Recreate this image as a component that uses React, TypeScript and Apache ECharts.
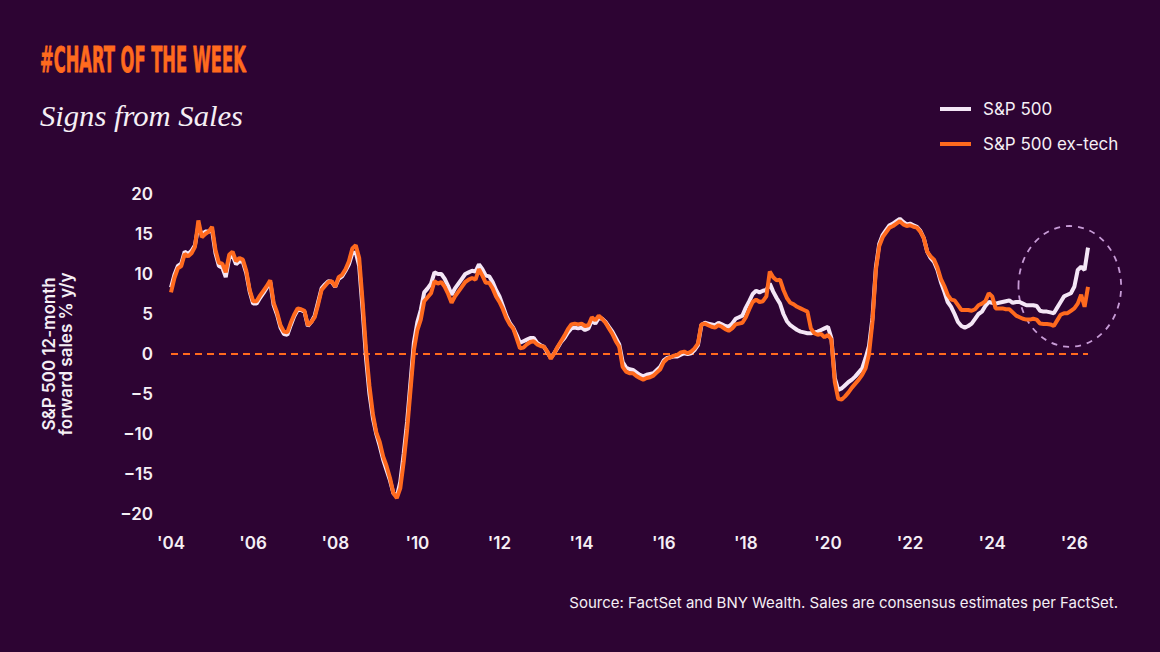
import React, { useEffect, useRef } from 'react';
import * as echarts from 'echarts';

// Monthly observations, January 2004 onward
const START_YEAR = 2004;

const spx500 = [
  8.3, 9.9, 11.0, 11.3, 12.8, 12.5, 12.9, 13.6, 16.0, 14.9, 15.3, 15.3,
  15.5, 12.6, 11.0, 10.8, 9.6, 12.0, 12.3, 11.2, 11.6, 11.5, 10.1, 7.8,
  6.3, 6.3, 7.0, 7.6, 8.3, 9.0, 6.1, 4.9, 3.3, 2.5, 2.4, 3.6,
  4.7, 5.5, 5.5, 5.3, 3.5, 4.0, 4.8, 6.5, 8.2, 8.7, 9.1, 9.0,
  8.4, 9.4, 9.7, 10.4, 11.2, 12.6, 12.7, 11.0, 5.5, -0.5, -5.0, -8.0,
  -10.0, -11.5, -13.2, -14.5, -15.8, -17.4, -17.8, -16.0, -12.5, -8.5, -3.5, 1.5,
  4.0, 5.5, 7.7, 8.2, 8.8, 10.2, 10.0, 10.0, 9.4, 8.5, 7.4, 8.2,
  8.8, 9.4, 10.0, 10.2, 10.4, 10.3, 11.2, 10.6, 9.8, 9.7, 9.0, 8.0,
  7.2, 6.0, 4.8, 3.9, 3.3, 2.4, 1.4, 1.6, 1.8, 2.0, 2.0, 1.4,
  1.1, 0.9, 0.2, -0.5, 0.1, 0.8, 1.5, 2.0, 2.7, 3.2, 3.3, 3.2,
  3.3, 3.0, 3.2, 4.2, 3.8, 4.5, 4.4, 4.0, 3.4, 2.8, 2.0, 1.2,
  -1.0, -1.7, -1.9, -2.0, -2.3, -2.6, -2.8, -2.6, -2.5, -2.4, -2.0, -1.6,
  -0.8, -0.5, -0.4, -0.3, -0.3, -0.1, 0.1, 0.0, 0.1, 0.5, 1.1, 3.6,
  3.9, 3.8, 3.7, 3.6, 3.9, 3.7, 3.5, 3.4, 3.8, 4.4, 4.6, 4.8,
  5.8, 6.6, 7.5, 7.9, 7.7, 7.9, 8.0, 8.8, 7.8, 7.0, 6.3, 5.0,
  4.1, 3.6, 3.3, 3.0, 2.8, 2.7, 2.6, 2.6, 2.7, 2.8, 3.0, 3.2,
  3.4, 2.0, -3.0, -4.5, -4.3, -3.9, -3.5, -3.2, -2.8, -2.3, -1.8, -0.5,
  1.0, 4.5, 10.8, 13.8, 14.9, 15.5, 16.1, 16.3, 16.6, 16.9, 16.5, 16.2,
  16.3, 16.1, 15.9, 15.4, 14.5, 12.8, 12.0, 11.5, 10.5, 9.0, 7.8, 6.5,
  5.9, 5.0, 4.0, 3.5, 3.3, 3.5, 3.8, 4.4, 5.0, 5.3, 6.0, 6.5,
  6.4, 6.3, 6.4, 6.5, 6.6, 6.7, 6.4, 6.5, 6.5, 6.3, 6.1, 6.1,
  6.1, 6.0, 5.4, 5.3, 5.3, 5.2, 5.1, 5.8, 6.5, 7.2, 7.4, 7.6,
  8.4, 10.5, 10.9, 10.5, 13.3,
];

const spx500ExTech = [
  7.7, 9.5, 10.7, 11.0, 12.5, 12.2, 12.6, 13.4, 16.7, 14.6, 15.0, 15.3,
  15.9, 13.0, 11.4, 11.3, 10.2, 12.4, 12.8, 11.6, 12.0, 11.8, 10.4, 8.0,
  6.6, 6.6, 7.3, 7.9, 8.5, 9.2, 6.4, 5.2, 3.6, 2.8, 2.7, 3.9,
  4.9, 5.7, 5.6, 5.4, 3.6, 4.0, 4.6, 6.2, 8.0, 8.5, 9.0, 9.1,
  8.4, 9.6, 9.9, 10.6, 11.6, 13.2, 13.6, 12.0, 6.5, 0.5, -4.0, -7.5,
  -9.8, -11.0, -12.8, -14.0, -15.5, -17.4, -18.0, -16.8, -13.5, -9.5, -4.5, 0.5,
  3.0, 4.3, 6.6, 7.1, 7.6, 9.1, 8.8, 9.0, 8.4, 7.5, 6.4, 7.2,
  7.8, 8.4, 9.0, 9.3, 9.5, 9.3, 10.6, 9.8, 8.9, 8.9, 8.2, 7.2,
  6.5, 5.6, 4.5, 3.7, 3.2, 2.0, 0.7, 0.8, 1.2, 1.5, 1.6, 1.2,
  1.0, 0.9, 0.3, -0.6, 0.1, 0.9, 1.6, 2.3, 3.1, 3.7, 3.8, 3.7,
  3.8, 3.5, 3.6, 4.6, 4.2, 4.8, 4.4, 3.9, 3.2, 2.5, 1.6, 0.9,
  -1.6, -2.2, -2.4, -2.4, -2.75, -3.0, -3.2, -3.0, -2.9, -2.7, -2.3, -1.9,
  -1.0, -0.6, -0.4, -0.2, -0.1, 0.2, 0.3, 0.1, 0.3, 0.7, 1.3, 3.7,
  3.8, 3.6, 3.4, 3.3, 3.6, 3.4, 3.1, 2.9, 3.2, 3.7, 3.8, 3.9,
  4.6, 5.6, 6.5, 6.8, 6.5, 6.6, 7.2, 10.3, 9.6, 9.2, 9.3, 8.0,
  7.0, 6.4, 6.2, 5.9, 5.7, 5.5, 5.3, 3.2, 2.6, 2.4, 2.5, 2.1,
  2.4, 1.8, -3.5, -5.6, -5.7, -5.3, -4.8, -4.2, -3.7, -3.2, -2.6, -1.8,
  0.0, 4.0, 10.5, 13.5, 14.6, 15.2, 15.8, 16.0, 16.3, 16.6, 16.2, 16.0,
  16.1, 15.9, 15.8, 15.3, 14.5, 12.8, 12.2, 11.8, 10.8, 9.4, 8.5, 7.4,
  6.8, 6.7, 6.1, 5.5, 5.5, 5.5, 5.4, 5.6, 6.1, 6.3, 6.6, 7.6,
  7.2, 5.7, 5.7, 5.7, 5.6, 5.6, 5.2, 4.8, 4.6, 4.4, 4.3, 4.3,
  4.4, 4.3, 3.8, 3.75, 3.75, 3.7, 3.5, 4.2, 4.9, 5.1, 5.1, 5.4,
  5.7, 6.3, 7.4, 5.9, 8.4,
];

const xTickYears = [2004, 2006, 2008, 2010, 2012, 2014, 2016, 2018, 2020, 2022, 2024, 2026];
const xTickLabels = ["'04", "'06", "'08", "'10", "'12", "'14", "'16", "'18", "'20", "'22", "'24", "'26"];
const yTicks = [-20, -15, -10, -5, 0, 5, 10, 15, 20];

// highlighted region (ellipse annotation) in data units: center [year, value], radii [years, value]
const highlightCenter = [2025.89, 8.45];
const highlightRadius = [1.25, 7.55];

const BG = '#2d0433';
const ORANGE = '#ff6a1e';
const LIGHT = '#f4e6f6';
const TEXT = '#f5eff5';
const FONT = 'Inter, "Noto Sans", sans-serif';

function measure(font: string, text: string): number {
  const ctx = document.createElement('canvas').getContext('2d');
  if (!ctx) return 0;
  ctx.font = font;
  return ctx.measureText(text).width;
}

export default function App() {
  const ref = useRef<HTMLDivElement>(null);

  useEffect(() => {
    if (!ref.current) return;
    const chart = echarts.init(ref.current, null, { renderer: 'svg' });
    const toPairs = (arr: number[]) => arr.map((v, i) => [START_YEAR + i / 12, v]);
    const lastX = START_YEAR + (spx500.length - 1) / 12;

    chart.setOption({
      animation: false,
      backgroundColor: BG,
      grid: { left: 171, right: 72, top: 194, bottom: 138 },
      legend: {
        orient: 'vertical',
        left: 935,
        top: 94,
        itemWidth: 31,
        itemHeight: 4,
        itemGap: 15,
        icon: 'rect',
        textStyle: { color: TEXT, fontFamily: FONT, fontSize: 17, lineHeight: 20, padding: [0, 0, 0, 7] },
        data: ['S&P 500', 'S&P 500 ex-tech'],
      },
      xAxis: {
        type: 'value',
        min: START_YEAR,
        max: lastX,
        interval: 2,
        axisLine: { show: false },
        axisTick: { show: false },
        splitLine: { show: false },
        axisLabel: {
          color: TEXT,
          fontFamily: FONT,
          fontSize: 17,
          fontWeight: 600,
          margin: 20,
          showMaxLabel: false,
          formatter: (v: number) => {
            const r = Math.round(v);
            const i = xTickYears.indexOf(r);
            return Math.abs(v - r) < 1e-6 && i >= 0 ? xTickLabels[i] : '';
          },
        },
      },
      yAxis: {
        type: 'value',
        min: yTicks[0],
        max: yTicks[yTicks.length - 1],
        interval: 5,
        axisLine: { show: false },
        axisTick: { show: false },
        splitLine: { show: false },
        name: 'S&P 500 12-month\nforward sales % y/y',
        nameLocation: 'middle',
        nameRotate: 90,
        nameGap: 97,
        nameTextStyle: { color: TEXT, fontFamily: FONT, fontSize: 17, fontWeight: 600, lineHeight: 17 },
        axisLabel: {
          color: TEXT,
          fontFamily: FONT,
          fontSize: 17,
          fontWeight: 600,
          margin: 18,
          formatter: (v: number) => String(v).replace('-', '\u2212'),
        },
      },
      series: [
        {
          name: 'S&P 500',
          type: 'line',
          data: toPairs(spx500),
          color: LIGHT,
          showSymbol: false,
          symbol: 'none',
          lineStyle: { width: 4, color: LIGHT },
          z: 2,
        },
        {
          name: 'S&P 500 ex-tech',
          type: 'line',
          data: toPairs(spx500ExTech),
          color: ORANGE,
          showSymbol: false,
          symbol: 'none',
          lineStyle: { width: 4, color: ORANGE },
          z: 3,
          markLine: {
            silent: true,
            symbol: 'none',
            label: { show: false },
            lineStyle: { color: ORANGE, type: [7, 5], width: 2 },
            data: [{ yAxis: 0 }],
            z: 1,
          },
        },
      ],
    });

    const c = chart.convertToPixel({ gridIndex: 0 }, highlightCenter) as number[];
    const e = chart.convertToPixel({ gridIndex: 0 }, [
      highlightCenter[0] + highlightRadius[0],
      highlightCenter[1] + highlightRadius[1],
    ]) as number[];

    const titleFont = 'bold 36px "Liberation Sans Narrow", "DejaVu Sans Condensed", sans-serif';
    const titleText = '#CHART OF THE WEEK';
    const tw = measure(titleFont, titleText) || 206;
    const subFont = 'italic 29px "Liberation Serif", "DejaVu Serif", serif';
    const subText = 'Signs from Sales';
    const sw = measure(subFont, subText) || 203;

    chart.setOption({
      graphic: [
        {
          type: 'text',
          x: 40,
          y: 60.5,
          scaleX: 206 / tw,
          style: {
            text: titleText,
            font: titleFont,
            fill: ORANGE,
            stroke: ORANGE,
            lineWidth: 0.8,
            align: 'left',
            verticalAlign: 'middle',
          },
        },
        {
          type: 'text',
          x: 40,
          y: 115.5,
          scaleX: 203 / sw,
          style: { text: subText, font: subFont, fill: TEXT, align: 'left', verticalAlign: 'middle' },
        },
        {
          type: 'text',
          right: 42,
          top: 595,
          style: {
            text: 'Source: FactSet and BNY Wealth. Sales are consensus estimates per FactSet.',
            font: '15px Inter, "Noto Sans", sans-serif',
            fill: TEXT,
          },
        },
        {
          type: 'ellipse',
          silent: true,
          shape: { cx: c[0], cy: c[1], rx: Math.abs(e[0] - c[0]), ry: Math.abs(c[1] - e[1]) },
          style: { fill: 'none', stroke: '#c79bd6', lineWidth: 1.8, lineDash: [6, 6] },
        },
      ],
    });

    return () => chart.dispose();
  }, []);

  return (
    <div
      ref={ref}
      style={{ position: 'fixed', left: 0, top: 0, width: 1160, height: 652, background: BG }}
    />
  );
}
